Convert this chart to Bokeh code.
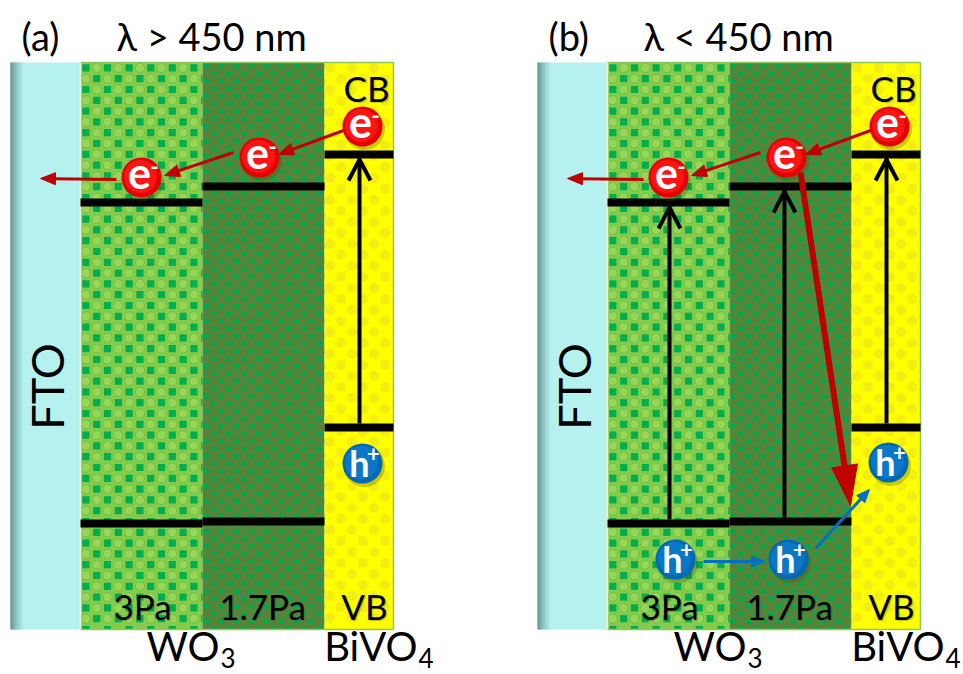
import numpy as np
from bokeh.plotting import figure
from bokeh.models import Range1d
from bokeh.core.properties import value
from bokeh.embed import file_html
from bokeh.resources import INLINE

# ---------------- data (reference pixel units) ----------------
PANEL_LABELS = ["(a)", "(b)"]
PANEL_TITLES = ["\u03bb > 450 nm", "\u03bb < 450 nm"]
PANEL_SHIFT = [0, 527]

LAYER_NAMES = ["FTO", "3Pa", "1.7Pa", "BiVO4"]
LAYER_LEFT = [10, 80, 202, 324]
LAYER_RIGHT = [79, 202, 324, 393]
LAYER_TOP = 62
LAYER_BOTTOM = 629

# band edges (pixel y) for 3Pa, 1.7Pa, BiVO4
CB_LEVEL = [202, 186, 154]
VB_LEVEL = [523, 521, 427]

# electrons / holes
E_X = [362, 259, 141]
E_Y = [126, 157, 177]
H_A_X = [362]
H_A_Y = [463]
H_B_X = [888, 675, 788]
H_B_Y = [462, 559, 559]

# electron transfer arrows (start -> tip)
RED_X0 = [343, 233, 116]
RED_Y0 = [130, 152, 179]
RED_X1 = [278, 164, 40]
RED_Y1 = [154, 175, 178]

# excitation arrows: panel a only BiVO4, panel b all three
EXC_A_X = [359]
EXC_A_Y0 = [423]
EXC_A_Y1 = [158]
EXC_B_X = [886, 669, 784]
EXC_B_Y0 = [423, 519, 517]
EXC_B_Y1 = [158, 206, 190]

# panel b hole transfer + recombination
BLUE_X0 = [703, 815]
BLUE_Y0 = [561, 548]
BLUE_X1 = [764, 869]
BLUE_Y1 = [561, 489]
RECOMB_X = [800, 850]
RECOMB_Y = [172, 505]

W, H = 963, 674
p = figure(width=W, height=H, x_range=Range1d(0, W), y_range=Range1d(H, 0),
           output_backend="svg", toolbar_location=None, min_border=0)
p.axis.visible = False
p.grid.visible = False
p.outline_line_color = None
p.background_fill_color = "white"
p.border_fill_color = "white"

FONT = value("Lato")
BASE_FIX = 0.36  # baseline correction (fraction of font size)


def label(xs, ys, texts, size, color="black", align="left", bold=False, alpha=1.0):
    p.text(x=xs, y=[y - BASE_FIX * size for y in ys], text=texts, text_font=FONT,
           text_font_size=f"{size}px", text_font_style="bold" if bold else "normal",
           text_color=color, text_alpha=alpha, text_align=align,
           text_baseline="alphabetic")


def checker(x0, x1, y0, y1, cell, sq, parity=0):
    L, R, T, B = [], [], [], []
    nx = int(np.ceil((x1 - x0) / cell))
    ny = int(np.ceil((y1 - y0) / cell))
    for j in range(ny):
        for i in range(nx):
            if (i + j) % 2 != parity:
                continue
            xc = x0 + cell / 2 + i * cell
            yc = y0 + cell / 2 + j * cell
            l, r = max(x0, xc - sq / 2), min(x1, xc + sq / 2)
            t, b = max(y0, yc - sq / 2), min(y1, yc + sq / 2)
            if r > l and b > t:
                L.append(l); R.append(r); T.append(t); B.append(b)
    return L, R, T, B


def circles_checker(x0, x1, y0, y1, cell, parity=1):
    xs, ys = [], []
    nx = int(np.ceil((x1 - x0) / cell))
    ny = int(np.ceil((y1 - y0) / cell))
    for j in range(ny):
        for i in range(nx):
            if (i + j) % 2 != parity:
                continue
            xc = x0 + cell / 2 + i * cell
            yc = y0 + cell / 2 + j * cell
            if x0 + 3 < xc < x1 - 3 and y0 + 3 < yc < y1 - 3:
                xs.append(xc); ys.append(yc)
    return xs, ys


def hexmix(c1, c2, t):
    a = np.array([int(c1[i:i + 2], 16) for i in (1, 3, 5)])
    b = np.array([int(c2[i:i + 2], 16) for i in (1, 3, 5)])
    c = (a + (b - a) * t).round().astype(int)
    return "#%02x%02x%02x" % tuple(c)


def filled_arrow(x0, y0, x1, y1, color, lw, hl, hw):
    d = np.array([x1 - x0, y1 - y0], float)
    u = d / np.linalg.norm(d)
    v = np.array([-u[1], u[0]])
    base = np.array([x1, y1]) - u * hl
    shaft_end = np.array([x1, y1]) - u * hl * 0.7
    p.segment(x0=[x0], y0=[y0], x1=[shaft_end[0]], y1=[shaft_end[1]],
              line_color=color, line_width=lw, line_cap="butt")
    px = [x1, base[0] + v[0] * hw / 2, base[0] - v[0] * hw / 2]
    py = [y1, base[1] + v[1] * hw / 2, base[1] - v[1] * hw / 2]
    p.patch(px, py, fill_color=color, line_color=color, line_width=1)


def open_arrow(x, y0, y1, lw=4, hw=11, hl=22):
    p.segment(x0=[x], y0=[y0], x1=[x], y1=[y1], line_color="black", line_width=lw)
    p.multi_line(xs=[[x - hw, x, x + hw]], ys=[[y1 + hl, y1 + 1, y1 + hl]],
                 line_color="black", line_width=lw, line_join="miter")


def particle(xs, ys, kind):
    col = "#E30000" if kind == "e" else "#0068B5"
    inner = "#FF1414" if kind == "e" else "#0A78C6"
    n = len(xs)
    p.circle(x=[x + 2 for x in xs], y=[y + 3 for y in ys], radius=20.5,
             fill_color="#4a4a00", fill_alpha=0.28, line_color=None)
    p.circle(x=xs, y=ys, radius=20, fill_color=col, line_color=None)
    p.circle(x=[x - 1 for x in xs], y=[y - 1 for y in ys], radius=16.5,
             fill_color=inner, line_color=None)
    if kind == "e":
        label([x - 2 for x in xs], [y + 11 for y in ys], ["e"] * n, 43, "white", "center", True)
        label([x + 13 for x in xs], [y - 3 for y in ys], ["-"] * n, 23, "white", "center", True)
    else:
        label([x - 3 for x in xs], [y + 12 for y in ys], ["h"] * n, 36, "white", "center", True)
        label([x + 11 for x in xs], [y - 2 for y in ys], ["+"] * n, 22, "white", "center", True)


for k, dx in enumerate(PANEL_SHIFT):
    lefts = [v + dx for v in LAYER_LEFT]
    rights = [v + dx for v in LAYER_RIGHT]

    # FTO with dark gradient edge
    p.quad(left=[lefts[0]], right=[rights[0]], top=[LAYER_TOP], bottom=[LAYER_BOTTOM],
           fill_color="#B5F2EF", line_color=None)
    nshade = 14
    for s in range(nshade):
        t = (s / (nshade - 1)) ** 0.8
        p.quad(left=[lefts[0] + s], right=[lefts[0] + s + 1], top=[LAYER_TOP],
               bottom=[LAYER_BOTTOM], fill_color=hexmix("#4C7477", "#B5F2EF", t),
               line_color=None)

    # WO3 3Pa
    p.quad(left=[lefts[1]], right=[rights[1]], top=[LAYER_TOP], bottom=[LAYER_BOTTOM],
           fill_color="#86CC4B", line_color=None)
    cx, cy = circles_checker(lefts[1], rights[1], LAYER_TOP, LAYER_BOTTOM, 10.8, 1)
    p.circle(x=cx, y=cy, radius=4.6, fill_color="#97D657", line_color="#6EC046", line_width=1)
    L, R, T, B = checker(lefts[1], rights[1], LAYER_TOP, LAYER_BOTTOM, 10.8, 7.2, 0)
    p.quad(left=L, right=R, top=T, bottom=B, fill_color="#00AE4F", line_color=None)

    # WO3 1.7Pa
    p.quad(left=[lefts[2]], right=[rights[2]], top=[LAYER_TOP], bottom=[LAYER_BOTTOM],
           fill_color="#56853A", line_color=None)
    L, R, T, B = checker(lefts[2], rights[2], LAYER_TOP, LAYER_BOTTOM, 7.5, 5.0, 0)
    p.quad(left=L, right=R, top=T, bottom=B, fill_color="#00A84E", line_color=None)

    # BiVO4
    p.quad(left=[lefts[3]], right=[rights[3]], top=[LAYER_TOP], bottom=[LAYER_BOTTOM],
           fill_color="#FFFF00", line_color=None)
    cx, cy = circles_checker(lefts[3], rights[3], LAYER_TOP, LAYER_BOTTOM, 11, 0)
    p.circle(x=cx, y=cy, radius=5, fill_color="#F3ED14", line_color=None)

    # outlines
    p.quad(left=[lefts[1]], right=[rights[3]], top=[LAYER_TOP], bottom=[LAYER_BOTTOM],
           fill_color=None, line_color="#8FC85A", line_width=1.5)
    p.segment(x0=[lefts[1]], y0=[LAYER_TOP], x1=[lefts[1]], y1=[LAYER_BOTTOM],
              line_color="#EAF7E0", line_width=1.5)

    # band levels
    for i in range(3):
        l, r = lefts[i + 1], rights[i + 1]
        for lev in (CB_LEVEL[i], VB_LEVEL[i]):
            p.quad(left=[l], right=[r], top=[lev - 4], bottom=[lev + 4],
                   fill_color="black", line_color=None)

    # labels
    label([21 + dx], [49], [PANEL_LABELS[k]], 38)
    label([116 + dx], [49], [PANEL_TITLES[k]], 38)
    p.text(x=[46 + dx], y=[386], text=["FTO"], angle=np.pi / 2, text_font=FONT,
           text_font_size="45px", text_color="black", text_align="center",
           text_baseline="middle")
    lab_x = [366 + dx, 142 + dx, 262 + dx, 364 + dx]
    lab_y = [100, 618, 618, 618]
    lab_t = ["CB", "3Pa", "1.7Pa", "VB"]
    label([v + 1.5 for v in lab_x], [v + 1.5 for v in lab_y], lab_t, 35, "#404020",
          "center", alpha=0.25)
    label(lab_x, lab_y, lab_t, 35, "black", "center")
    label([219 + dx, 417 + dx], [660, 660], ["WO", "BiVO"], 40, "black", "right")
    label([220 + dx, 418 + dx], [667, 667], ["3", "4"], 26, "black", "left")

# excitation arrows
for x, y0, y1 in zip(EXC_A_X, EXC_A_Y0, EXC_A_Y1):
    open_arrow(x, y0, y1)
for x, y0, y1 in zip(EXC_B_X, EXC_B_Y0, EXC_B_Y1):
    open_arrow(x, y0, y1)

# electron transfer arrows in both panels
for dx in PANEL_SHIFT:
    for x0, y0, x1, y1 in zip(RED_X0, RED_Y0, RED_X1, RED_Y1):
        filled_arrow(x0 + dx, y0, x1 + dx, y1, "#C00000", 3, 15, 12)

# recombination arrow
filled_arrow(RECOMB_X[0], RECOMB_Y[0], RECOMB_X[1], RECOMB_Y[1], "#C00000", 6, 40, 26)

# hole transfer arrows
for x0, y0, x1, y1 in zip(BLUE_X0, BLUE_Y0, BLUE_X1, BLUE_Y1):
    filled_arrow(x0, y0, x1, y1, "#0070C0", 3, 13, 11)

# particles
particle(E_X, E_Y, "e")
particle([x + PANEL_SHIFT[1] for x in E_X], E_Y, "e")
particle(H_A_X, H_A_Y, "h")
particle(H_B_X, H_B_Y, "h")

open("out.html", "w").write(file_html(p, INLINE))
